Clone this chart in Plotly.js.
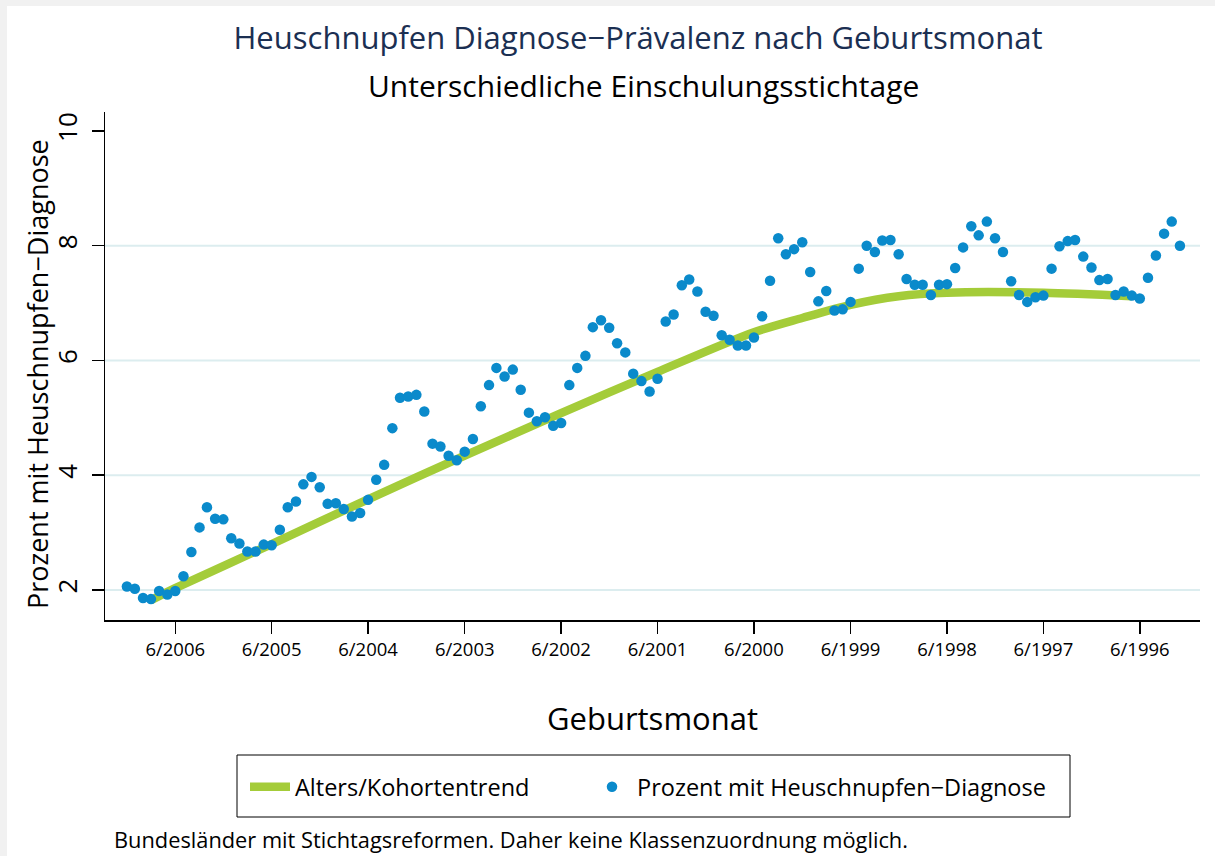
<!DOCTYPE html>
<html>
<head>
<meta charset="utf-8">
<script src="https://cdn.plot.ly/plotly-3.0.1.min.js"></script>
<style>html,body{margin:0;padding:0;background:#fff;}#chart{width:1215px;height:856px;}</style>
</head>
<body>
<div id="chart"></div>
<script>
// Birth months, left to right as drawn (newest first)
const months = [
  "2006-12","2006-11","2006-10","2006-09","2006-08","2006-07","2006-06","2006-05","2006-04","2006-03","2006-02","2006-01",
  "2005-12","2005-11","2005-10","2005-09","2005-08","2005-07","2005-06","2005-05","2005-04","2005-03","2005-02","2005-01",
  "2004-12","2004-11","2004-10","2004-09","2004-08","2004-07","2004-06","2004-05","2004-04","2004-03","2004-02","2004-01",
  "2003-12","2003-11","2003-10","2003-09","2003-08","2003-07","2003-06","2003-05","2003-04","2003-03","2003-02","2003-01",
  "2002-12","2002-11","2002-10","2002-09","2002-08","2002-07","2002-06","2002-05","2002-04","2002-03","2002-02","2002-01",
  "2001-12","2001-11","2001-10","2001-09","2001-08","2001-07","2001-06","2001-05","2001-04","2001-03","2001-02","2001-01",
  "2000-12","2000-11","2000-10","2000-09","2000-08","2000-07","2000-06","2000-05","2000-04","2000-03","2000-02","2000-01",
  "1999-12","1999-11","1999-10","1999-09","1999-08","1999-07","1999-06","1999-05","1999-04","1999-03","1999-02","1999-01",
  "1998-12","1998-11","1998-10","1998-09","1998-08","1998-07","1998-06","1998-05","1998-04","1998-03","1998-02","1998-01",
  "1997-12","1997-11","1997-10","1997-09","1997-08","1997-07","1997-06","1997-05","1997-04","1997-03","1997-02","1997-01",
  "1996-12","1996-11","1996-10","1996-09","1996-08","1996-07","1996-06","1996-05","1996-04","1996-03","1996-02","1996-01"
];
// Percent with hay fever diagnosis
const prevalence = [
  2.06,2.02,1.86,1.84,1.98,1.92,1.98,2.24,2.66,3.09,3.44,3.24,
  3.23,2.90,2.81,2.67,2.67,2.79,2.78,3.05,3.44,3.54,3.84,3.97,
  3.79,3.50,3.51,3.41,3.28,3.34,3.57,3.92,4.18,4.82,5.35,5.37,
  5.40,5.11,4.55,4.50,4.34,4.26,4.41,4.63,5.20,5.57,5.87,5.72,
  5.84,5.49,5.09,4.94,5.01,4.86,4.91,5.57,5.87,6.08,6.58,6.70,
  6.57,6.30,6.14,5.77,5.64,5.46,5.68,6.68,6.80,7.31,7.41,7.20,
  6.85,6.78,6.44,6.36,6.26,6.26,6.40,6.77,7.39,8.13,7.85,7.94,
  8.06,7.54,7.03,7.21,6.87,6.89,7.02,7.60,8.00,7.89,8.09,8.10,
  7.85,7.42,7.32,7.32,7.14,7.32,7.33,7.61,7.97,8.34,8.18,8.42,
  8.13,7.89,7.38,7.14,7.02,7.10,7.13,7.60,7.99,8.08,8.10,7.81,
  7.62,7.40,7.42,7.14,7.20,7.13,7.08,7.44,7.83,8.21,8.42,8.00
];
// Age/cohort trend (read at knots)
const trendMonths = ["2006-09","2006-06","2005-06","2004-06","2003-06","2002-06","2001-06","2000-06","1999-12","1999-06","1998-12","1998-06","1997-06","1996-07"];
const trendValues = [1.82,2.03,2.80,3.58,4.34,5.08,5.80,6.49,6.74,6.97,7.12,7.18,7.18,7.12];
// Axis ticks
const xTickVals = ["2006-06","2005-06","2004-06","2003-06","2002-06","2001-06","2000-06","1999-06","1998-06","1997-06","1996-06"];
const xTickText = ["6/2006","6/2005","6/2004","6/2003","6/2002","6/2001","6/2000","6/1999","6/1998","6/1997","6/1996"];
const yTickVals = [2,4,6,8,10];
const gridVals = [2,4,6,8];

const FONT = 'Open Sans, Noto Sans, sans-serif';
const green = '#a4cc39', blue = '#0a8acb';

const traces = [
  {x: trendMonths, y: trendValues, type:'scatter', mode:'lines', name:'Alters/Kohortentrend', legend:'legend', showlegend:true,
   line:{color:green, width:8.5, shape:'spline', smoothing:0.8}},
  {x: months, y: prevalence, type:'scatter', mode:'markers', name:'Prozent mit Heuschnupfen\u2212Diagnose', legend:'legend2', showlegend:true,
   marker:{color:blue, size:10.5}}
];

const W = 1095, H = 508, L = 105, T = 112;
const px = v => (v - L) / W;
const py = v => (T + H - v) / H;

const shapes = gridVals.map(v => ({type:'line', xref:'paper', yref:'y', x0:0, x1:1, y0:v, y1:v,
  line:{color:'#dcedef', width:2}, layer:'below'}));
shapes.push({type:'rect', xref:'paper', yref:'paper', x0:px(237), x1:px(1070), y0:py(755), y1:py(817),
  line:{color:'#000', width:1}, fillcolor:'rgba(0,0,0,0)'});
shapes.push({type:'rect', xref:'paper', yref:'paper', x0:px(0), x1:px(1215), y0:py(0), y1:py(6),
  line:{width:0}, fillcolor:'#f1f1f1', layer:'below'});
shapes.push({type:'rect', xref:'paper', yref:'paper', x0:px(0), x1:px(7), y0:py(0), y1:py(856),
  line:{width:0}, fillcolor:'#f1f1f1', layer:'below'});

const legendBase = {orientation:'h', xanchor:'left', y:py(787), yanchor:'middle', borderwidth:0, visible:true,
  bgcolor:'rgba(0,0,0,0)', font:{size:23.5, family:FONT}, itemwidth:40};

const layout = {
  width:1215, height:856,
  margin:{l:L, r:15, t:T, b:236, pad:0},
  paper_bgcolor:'#fff', plot_bgcolor:'#fff',
  font:{family:FONT, color:'#000'},
  showlegend:true,
  title:{text:'Heuschnupfen Diagnose\u2212Prävalenz nach Geburtsmonat', font:{family:FONT, size:31, color:'#1b2f52'},
         xref:'paper', x:(638-L)/W, xanchor:'center', yref:'container', y:1-38/856, yanchor:'middle'},
  annotations:[
    {text:'Unterschiedliche Einschulungsstichtage', xref:'paper', yref:'paper', x:px(643), y:py(85),
     xanchor:'center', yanchor:'middle', showarrow:false, font:{family:FONT, size:30, color:'#000'}},
    {text:'Prozent mit Heuschnupfen\u2212Diagnose', xref:'paper', yref:'paper', x:px(37), y:py(374), textangle:-90,
     xanchor:'center', yanchor:'middle', showarrow:false, font:{family:FONT, size:27, color:'#000'}},
    {text:'Bundesländer mit Stichtagsreformen. Daher keine Klassenzuordnung möglich.', xref:'paper', yref:'paper',
     x:px(112), y:py(839), xanchor:'left', yanchor:'middle', showarrow:false, font:{family:FONT, size:21.8, color:'#000'}}
  ],
  xaxis:{type:'date', range:['2007-02-22','1995-10-17'], tickmode:'array', tickvals:xTickVals, ticktext:xTickText,
    ticks:'outside', ticklen:12, tickwidth:1.5, tickcolor:'#000', showline:true, linecolor:'#000', linewidth:1.5,
    showgrid:false, zeroline:false, tickfont:{size:18.5, family:FONT}, tickangle:0,
    title:{text:'Geburtsmonat', font:{size:31, family:FONT}, standoff:48}},
  yaxis:{range:[1.476,10.33], tickmode:'array', tickvals:yTickVals, ticks:'outside', ticklen:12, tickwidth:1.5,
    tickcolor:'#000', showline:true, linecolor:'#000', linewidth:1.5, showgrid:false, zeroline:false,
    tickangle:-90, tickfont:{size:26, family:FONT}, ticklabelstandoff:4},
  legend:Object.assign({}, legendBase, {x:px(245)}),
  legend2:Object.assign({}, legendBase, {x:px(587)}),
  shapes:shapes
};

Plotly.newPlot('chart', traces, layout, {displayModeBar:false, staticPlot:true});
</script>
</body>
</html>
